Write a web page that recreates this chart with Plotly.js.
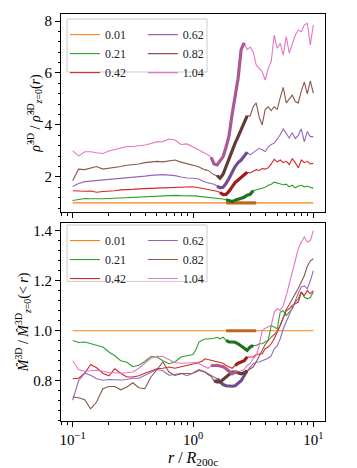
<!DOCTYPE html>
<html>
<head>
<meta charset="utf-8">
<script src="https://cdn.plot.ly/plotly-3.0.1.min.js"></script>
<style>
  html, body { margin: 0; padding: 0; background: #fff; }
  #chart { width: 357px; height: 468px; }
</style>
</head>
<body>
<div id="chart"></div>
<script>
const r = [0.100, 0.112, 0.126, 0.141, 0.158, 0.178, 0.200, 0.224, 0.251, 0.282, 0.316, 0.355, 0.398, 0.447, 0.501, 0.562, 0.631, 0.708, 0.794, 0.891,
    1.000, 1.059, 1.122, 1.189, 1.259, 1.334, 1.413, 1.496, 1.585, 1.679, 1.778, 1.884, 1.995, 2.113, 2.239, 2.371, 2.512, 2.661, 2.818, 2.985,
    3.162, 3.350, 3.548, 3.758, 3.981, 4.217, 4.467, 4.732, 5.012, 5.309, 5.623, 5.957, 6.310, 6.683, 7.079, 7.499, 7.943, 8.414, 8.913, 9.441, 10.000];

const zLabels = ['0.01', '0.21', '0.42', '0.62', '0.82', '1.04'];
const colors = ['#ff7f0e', '#2ca02c', '#d62728', '#9467bd', '#8c564b', '#e377c2'];
const darkColors = ['#c2661a', '#1f701f', '#a01d1e', '#6f4d8e', '#623c34', '#aa5991'];

// density ratio (top panel)
const rhoZ001 = [1, 1, 1, 1, 1, 1, 1, 1, 1, 1, 1, 1, 1, 1, 1, 1, 1, 1, 1, 1,
    1, 1, 1, 1, 1, 1, 1, 1, 1, 1, 1, 1, 1, 1, 1, 1, 1, 1, 1, 1,
    1, 1, 1, 1, 1, 1, 1, 1, 1, 1, 1, 1, 1, 1, 1, 1, 1, 1, 1, 1, 1];
const rhoZ021 = [1.09, 1.14, 1.17, 1.16, 1.15, 1.16, 1.17, 1.18, 1.19, 1.20, 1.21, 1.23, 1.24, 1.26, 1.27, 1.28, 1.29, 1.29, 1.28, 1.28,
    1.28, 1.27, 1.25, 1.24, 1.22, 1.21, 1.20, 1.19, 1.18, 1.16, 1.15, 1.12, 1.07, 1.05, 1.10, 1.13, 1.17, 1.22, 1.30, 1.33,
    1.47, 1.50, 1.52, 1.55, 1.60, 1.68, 1.72, 1.80, 1.76, 1.75, 1.70, 1.72, 1.62, 1.68, 1.58, 1.65, 1.68, 1.62, 1.65, 1.60, 1.56];
const rhoZ042 = [1.47, 1.45, 1.45, 1.46, 1.41, 1.44, 1.45, 1.47, 1.50, 1.50, 1.52, 1.54, 1.56, 1.56, 1.57, 1.58, 1.59, 1.60, 1.60, 1.62,
    1.62, 1.60, 1.58, 1.55, 1.52, 1.50, 1.50, 1.47, 1.45, 1.40, 1.32, 1.33, 1.45, 1.62, 1.78, 1.88, 1.98, 2.05, 2.18, 2.15,
    2.22, 2.28, 2.25, 2.32, 2.30, 2.35, 2.50, 2.68, 2.58, 2.65, 2.55, 2.60, 2.48, 2.70, 2.55, 2.35, 2.65, 2.55, 2.60, 2.50, 2.52];
const rhoZ062 = [1.63, 1.75, 1.82, 1.84, 1.86, 1.88, 1.89, 1.90, 1.92, 1.94, 1.97, 2.00, 2.03, 2.06, 2.08, 2.09, 2.07, 2.05, 2.00, 1.96,
    1.95, 1.93, 1.92, 1.85, 1.80, 1.77, 1.75, 1.72, 1.65, 1.58, 1.60, 1.75, 1.95, 2.20, 2.40, 2.55, 2.65, 2.80, 2.95, 2.85,
    2.95, 3.02, 3.10, 3.05, 2.98, 3.15, 3.25, 3.30, 3.45, 3.62, 3.85, 3.65, 3.50, 3.70, 3.48, 3.60, 3.85, 3.35, 3.75, 3.55, 3.55];
const rhoZ082 = [1.85, 2.30, 2.28, 2.33, 2.40, 2.30, 2.33, 2.38, 2.40, 2.45, 2.47, 2.50, 2.55, 2.58, 2.60, 2.58, 2.63, 2.65, 2.57, 2.52,
    2.46, 2.42, 2.38, 2.32, 2.27, 2.25, 2.15, 2.08, 2.05, 1.95, 2.10, 2.40, 2.75, 3.05, 3.30, 3.55, 3.80, 4.05, 4.35, 4.35,
    4.70, 4.85, 4.30, 4.00, 4.60, 4.70, 4.55, 4.70, 4.60, 5.05, 5.45, 4.85, 5.00, 5.15, 4.90, 4.85, 5.30, 5.65, 5.20, 5.70, 5.22];
const rhoZ104 = [3.01, 2.80, 2.97, 2.97, 2.93, 2.90, 3.00, 3.06, 3.10, 3.17, 3.17, 3.20, 3.23, 3.29, 3.35, 3.36, 3.46, 3.42, 3.25, 3.27,
    3.17, 3.10, 3.04, 2.97, 2.91, 2.85, 2.75, 2.50, 2.46, 2.62, 2.78, 3.15, 3.60, 4.40, 5.10, 5.80, 6.90, 7.16, 6.90, 7.00,
    6.82, 6.31, 6.18, 6.05, 5.73, 6.18, 6.44, 7.46, 6.95, 7.14, 6.69, 7.40, 6.76, 7.14, 7.46, 7.65, 7.59, 7.85, 7.91, 7.08, 7.85];

// enclosed mass ratio (bottom panel)
const massZ001 = [1, 1, 1, 1, 1, 1, 1, 1, 1, 1, 1, 1, 1, 1, 1, 1, 1, 1, 1, 1,
    1, 1, 1, 1, 1, 1, 1, 1, 1, 1, 1, 1, 1, 1, 1, 1, 1, 1, 1, 1,
    1, 1, 1, 1, 1, 1, 1, 1, 1, 1, 1, 1, 1, 1, 1, 1, 1, 1, 1, 1, 1];
const massZ021 = [0.961, 0.953, 0.955, 0.950, 0.942, 0.935, 0.915, 0.900, 0.880, 0.874, 0.856, 0.862, 0.877, 0.897, 0.895, 0.880, 0.868, 0.875, 0.895, 0.900,
    0.905, 0.925, 0.955, 0.962, 0.967, 0.967, 0.967, 0.970, 0.974, 0.968, 0.974, 0.962, 0.955, 0.955, 0.954, 0.948, 0.940, 0.933, 0.922, 0.935,
    0.941, 0.941, 0.948, 0.948, 0.955, 0.962, 1.021, 1.015, 1.008, 1.075, 1.080, 1.061, 1.075, 1.088, 1.115, 1.128, 1.155, 1.135, 1.128, 1.133, 1.155];
const massZ042 = [0.808, 0.810, 0.830, 0.865, 0.852, 0.830, 0.820, 0.848, 0.830, 0.815, 0.815, 0.820, 0.830, 0.840, 0.848, 0.850, 0.855, 0.850, 0.855, 0.860,
    0.865, 0.870, 0.874, 0.878, 0.888, 0.885, 0.881, 0.879, 0.877, 0.875, 0.870, 0.861, 0.854, 0.850, 0.861, 0.870, 0.875, 0.880, 0.895, 0.895,
    0.895, 0.905, 0.908, 0.908, 0.928, 0.935, 0.948, 0.968, 0.995, 1.025, 1.048, 1.080, 1.088, 1.101, 1.108, 1.115, 1.155, 1.141, 1.161, 1.148, 1.161];
const massZ062 = [0.722, 0.800, 0.830, 0.822, 0.808, 0.802, 0.805, 0.803, 0.803, 0.805, 0.810, 0.810, 0.822, 0.832, 0.845, 0.840, 0.822, 0.825, 0.830, 0.820,
    0.828, 0.835, 0.841, 0.838, 0.835, 0.828, 0.822, 0.815, 0.808, 0.795, 0.785, 0.780, 0.778, 0.778, 0.780, 0.790, 0.800, 0.820, 0.840, 0.855,
    0.868, 0.874, 0.875, 0.880, 0.887, 0.890, 0.900, 0.928, 0.940, 0.968, 1.008, 1.035, 1.068, 1.095, 1.120, 1.150, 1.175, 1.180, 1.168, 1.200, 1.241];
const massZ082 = [0.735, 0.732, 0.724, 0.688, 0.715, 0.768, 0.777, 0.777, 0.764, 0.775, 0.792, 0.772, 0.768, 0.815, 0.844, 0.875, 0.835, 0.821, 0.828, 0.828,
    0.830, 0.838, 0.845, 0.840, 0.835, 0.825, 0.818, 0.800, 0.795, 0.795, 0.805, 0.815, 0.825, 0.835, 0.835, 0.830, 0.828, 0.832, 0.840, 0.845,
    0.855, 0.875, 0.900, 0.925, 0.945, 0.960, 0.975, 0.985, 0.998, 1.020, 1.055, 1.085, 1.105, 1.125, 1.145, 1.170, 1.195, 1.220, 1.258, 1.280, 1.288];
const massZ104 = [0.880, 0.845, 0.838, 0.840, 0.842, 0.838, 0.833, 0.832, 0.830, 0.832, 0.835, 0.850, 0.870, 0.890, 0.898, 0.897, 0.885, 0.872, 0.870, 0.872,
    0.875, 0.873, 0.868, 0.862, 0.855, 0.850, 0.860, 0.862, 0.862, 0.859, 0.856, 0.848, 0.838, 0.828, 0.835, 0.835, 0.840, 0.845, 0.861, 0.870,
    0.888, 0.900, 0.941, 1.001, 1.010, 1.015, 1.021, 1.075, 1.088, 1.081, 1.101, 1.141, 1.188, 1.235, 1.288, 1.328, 1.355, 1.375, 1.355, 1.361, 1.401];

// index ranges of the highlighted (thick) part of each curve
const rhoThick = [[31, 41], [31, 40], [29, 38], [28, 38], [28, 38], [26, 37]];
const massThick = [[31, 41], [31, 40], [34, 38], [28, 38], [27, 38], [26, 35]];

const rhoSeries = [rhoZ001, rhoZ021, rhoZ042, rhoZ062, rhoZ082, rhoZ104];
const massSeries = [massZ001, massZ021, massZ042, massZ062, massZ082, massZ104];

const FONT = '"Liberation Serif", "DejaVu Serif", serif';

function panelTraces(series, thick, xaxis, yaxis, legends) {
    const thin = series.map((vals, i) => ({
        x: r,
        y: vals,
        xaxis: xaxis,
        yaxis: yaxis,
        mode: 'lines',
        name: zLabels[i],
        line: { color: colors[i], width: 1.1 },
        legend: i < 3 ? legends[0] : legends[1],
        hoverinfo: 'skip',
    }));
    const bold = series.map((vals, i) => ({
        x: r.slice(thick[i][0], thick[i][1] + 1),
        y: vals.slice(thick[i][0], thick[i][1] + 1),
        xaxis: xaxis,
        yaxis: yaxis,
        mode: 'lines',
        line: { color: darkColors[i], width: 3.2 },
        showlegend: false,
        hoverinfo: 'skip',
    }));
    return thin.concat(bold);
}

function legendBox(y0, y1) {
    return {
        type: 'rect', xref: 'paper', yref: 'paper',
        x0: 0.023, x1: 0.553, y0: y0, y1: y1,
        line: { color: '#cccccc', width: 1 },
        fillcolor: 'rgba(255,255,255,0.8)',
        layer: 'above',
    };
}

function legendAt(x, y) {
    return {
        x: x, y: y, xanchor: 'left', yanchor: 'top',
        bgcolor: 'rgba(0,0,0,0)', borderwidth: 0,
        font: { family: FONT, size: 12, color: '#222' },
        itemwidth: 30,
    };
}

const logAxis = {
    type: 'log',
    range: [-1.097, 1.097],
    tickvals: [0.1, 1, 10],
    ticks: 'outside', ticklen: 5, tickcolor: '#000',
    minor: { ticks: 'outside', ticklen: 2.5, dtick: 'D1', tickcolor: '#000' },
    showline: true, mirror: true, linecolor: '#000', linewidth: 1,
    showgrid: false, zeroline: false,
    tickfont: { family: FONT, size: 15, color: '#000' },
};

const traces = panelTraces(rhoSeries, rhoThick, 'x', 'y', ['legend', 'legend2'])
    .concat(panelTraces(massSeries, massThick, 'x2', 'y2', ['legend3', 'legend4']));

const layout = {
    width: 357,
    height: 468,
    paper_bgcolor: '#fff',
    plot_bgcolor: '#fff',
    margin: { t: 14, l: 61, r: 32, b: 47 },
    showlegend: true,
    xaxis: Object.assign({}, logAxis, { anchor: 'y', showticklabels: false }),
    xaxis2: Object.assign({}, logAxis, {
        anchor: 'y2',
        ticktext: ['10<sup>−1</sup>', '10<sup>0</sup>', '10<sup>1</sup>'],
        title: { text: '<i>r</i> / <i>R</i><sub>200c</sub>', font: { family: FONT, size: 16, color: '#000' }, standoff: 4 },
    }),
    yaxis: {
        domain: [0.5135, 1],
        range: [0.65, 8.27],
        tickvals: [2, 4, 6, 8],
        ticks: 'outside', ticklen: 5, tickcolor: '#000',
        minor: { ticks: 'outside', ticklen: 2.5, dtick: 0.4, tickcolor: '#000' },
        showline: true, mirror: true, linecolor: '#000', linewidth: 1,
        showgrid: false, zeroline: false,
        tickfont: { family: FONT, size: 15, color: '#000' },
        title: { text: '<i>ρ̂</i><sup>3D</sup> / <i>ρ̂</i><sup>3D</sup><sub><i>z</i>=0</sub>(<i>r</i>)', font: { family: FONT, size: 14, color: '#000' }, standoff: 0 },
    },
    yaxis2: {
        domain: [0, 0.487],
        range: [0.639, 1.432],
        tickvals: [0.8, 1.0, 1.2, 1.4],
        tickformat: '.1f',
        ticks: 'outside', ticklen: 5, tickcolor: '#000',
        minor: { ticks: 'outside', ticklen: 2.5, dtick: 0.04, tickcolor: '#000' },
        showline: true, mirror: true, linecolor: '#000', linewidth: 1,
        showgrid: false, zeroline: false,
        tickfont: { family: FONT, size: 15, color: '#000' },
        title: { text: '<i>M̂</i><sup>3D</sup> / <i>M̂</i><sup>3D</sup><sub><i>z</i>=0</sub>(&lt; <i>r</i>)', font: { family: FONT, size: 14, color: '#000' }, standoff: 0 },
    },
    legend: legendAt(0.015, 0.985),
    legend2: legendAt(0.31, 0.985),
    legend3: legendAt(0.015, 0.479),
    legend4: legendAt(0.31, 0.479),
    shapes: [legendBox(0.8575, 0.9877), legendBox(0.343, 0.4815)],
};

Plotly.newPlot('chart', traces, layout, { displayModeBar: false, staticPlot: true });
</script>
</body>
</html>
